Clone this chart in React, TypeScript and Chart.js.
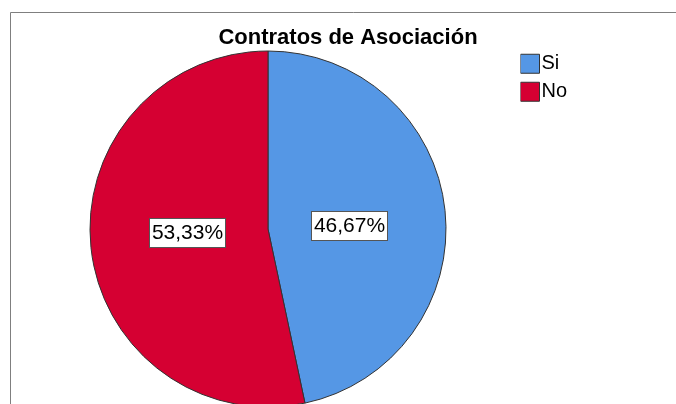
import React, { useEffect, useRef } from 'react';
import { Chart, registerables } from 'chart.js';

Chart.register(...registerables);

// ---- data ----
const TITLE = 'Contratos de Asociación';
const categories = ['Si', 'No'];
const percentages = [46.67, 53.33];
const sliceColors = ['#5597E5', '#D50032'];

const FONT = "'Liberation Sans', Arial, Helvetica, sans-serif";

const framePlugin = {
  id: 'frame',
  beforeDraw(chart: any) {
    const { ctx, width, height } = chart;
    ctx.save();
    ctx.fillStyle = '#ffffff';
    ctx.fillRect(0, 0, width, height);
    ctx.strokeStyle = '#7f7f7f';
    ctx.lineWidth = 1;
    ctx.beginPath();
    ctx.moveTo(10.5, height);
    ctx.lineTo(10.5, 12.5);
    ctx.lineTo(width, 12.5);
    ctx.stroke();
    ctx.restore();
  },
};

const sliceLabelPlugin = {
  id: 'sliceLabels',
  afterDatasetsDraw(chart: any) {
    const meta = chart.getDatasetMeta(0);
    const values = chart.data.datasets[0].data as number[];
    const ctx = chart.ctx;
    ctx.save();
    ctx.font = `21px ${FONT}`;
    ctx.textAlign = 'center';
    ctx.textBaseline = 'middle';
    meta.data.forEach((arc: any, i: number) => {
      const { x, y, startAngle, endAngle, outerRadius } = arc.getProps(
        ['x', 'y', 'startAngle', 'endAngle', 'outerRadius'],
        true
      );
      const mid = (startAngle + endAngle) / 2;
      const d = outerRadius * 0.46;
      const cx = x + Math.cos(mid) * d;
      const cy = y + Math.sin(mid) * d * 0.38;
      const text = values[i].toFixed(2).replace('.', ',') + '%';
      const w = Math.round(ctx.measureText(text).width + 5);
      const h = 29;
      const bx = Math.round(cx - w / 2) + 0.5;
      const by = Math.round(cy - h / 2) + 0.5;
      ctx.fillStyle = '#ffffff';
      ctx.fillRect(bx, by, w, h);
      ctx.strokeStyle = '#555555';
      ctx.lineWidth = 1;
      ctx.strokeRect(bx, by, w, h);
      ctx.fillStyle = '#000000';
      ctx.fillText(text, bx + w / 2, by + h / 2 + 0.5);
    });
    ctx.restore();
  },
};

export default function App() {
  const canvasRef = useRef<HTMLCanvasElement | null>(null);

  useEffect(() => {
    if (!canvasRef.current) return;
    const chart = new Chart(canvasRef.current, {
      type: 'pie',
      data: {
        labels: categories,
        datasets: [
          {
            data: percentages,
            backgroundColor: sliceColors,
            borderColor: '#333333',
            borderWidth: 1,
            radius: 178,
          } as any,
        ],
      },
      options: {
        responsive: false,
        animation: false,
        events: [],
        devicePixelRatio: 1,
        layout: { padding: { left: 15.5, right: 15.5, top: 0, bottom: 7.75 } },
        plugins: {
          title: {
            display: true,
            text: TITLE,
            color: '#000000',
            font: { family: FONT, size: 22, weight: 'bold', lineHeight: 0.75 },
            padding: { top: 29.25, bottom: 0 },
          },
          subtitle: {
            display: true,
            text: '',
            position: 'right',
            font: { size: 10, lineHeight: 1 },
            padding: { top: 100, bottom: 0 },
          },
          legend: {
            position: 'right',
            align: 'start',
            fullSize: false,
            maxWidth: 50,
            labels: {
              usePointStyle: true,
              pointStyle: 'rect',
              boxWidth: 3,
              boxHeight: 19,
              padding: 8,
              color: '#000000',
              font: { family: FONT, size: 20 },
            },
          },
          tooltip: { enabled: false },
        },
      } as any,
      plugins: [framePlugin, sliceLabelPlugin],
    });
    return () => chart.destroy();
  }, []);

  return (
    <div
      style={{
        position: 'fixed',
        left: 0,
        top: 0,
        width: 676,
        height: 404,
        overflow: 'hidden',
        background: '#ffffff',
      }}
    >
      <canvas ref={canvasRef} width={696} height={420} style={{ display: 'block' }} />
    </div>
  );
}
